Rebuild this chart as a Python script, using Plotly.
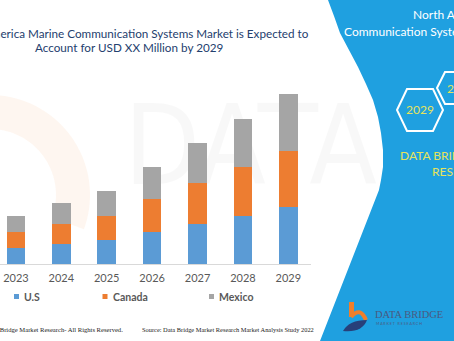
import numpy as np
import plotly.graph_objects as go

# Market size by country (USD million, indexed units)
years = ["2023", "2024", "2025", "2026", "2027", "2028", "2029"]
us = [2.0, 2.5, 3.0, 4.0, 5.0, 6.0, 7.0]
canada = [2.0, 2.5, 3.0, 4.0, 5.0, 6.0, 7.0]
mexico = [2.0, 2.5, 3.0, 4.0, 5.0, 6.0, 7.0]

series = [("U.S", us, "#5B9BD5"), ("Canada", canada, "#ED7D31"), ("Mexico", mexico, "#A5A5A5")]

W, H = 454, 341


def X(px):
    return px / W


def Y(py):
    return 1 - py / H


def path(points, close=True):
    s = "M " + " L ".join(f"{X(a):.5f},{Y(b):.5f}" for a, b in points)
    return s + (" Z" if close else "")


fig = go.Figure()
for name, vals, col in series:
    fig.add_trace(go.Bar(x=years, y=vals, name=name, marker_color=col,
                         marker_line_width=0, showlegend=False))

shapes = []

# faint logo arc in the background
th = np.linspace(np.radians(100), np.radians(-20), 40)
cx, cy = -10, 195
outer = [(cx + 100 * np.cos(t), cy - 100 * np.sin(t)) for t in th]
inner = [(cx + 66 * np.cos(t), cy - 66 * np.sin(t)) for t in th[::-1]]
shapes.append(dict(type="path", xref="paper", yref="paper", layer="below",
                   path=path(outer + inner), fillcolor="rgba(248,200,160,0.16)",
                   line_width=0))

# watermark lettering behind the bars
shapes.append(dict(type="rect", xref="paper", yref="paper", layer="below",
                   x0=X(118), x1=X(460), y0=Y(200), y1=Y(75),
                   line_width=0, fillcolor="rgba(0,0,0,0)",
                   label=dict(text="DATA BRIDGE", textposition="middle left",
                              font=dict(family="DejaVu Sans Condensed, Open Sans", size=110,
                                        color="rgba(0,0,0,0.028)", weight=300))))
shapes.append(dict(type="rect", xref="paper", yref="paper", layer="below",
                   x0=X(120), x1=X(460), y0=Y(270), y1=Y(215),
                   line_width=0, fillcolor="rgba(0,0,0,0)",
                   label=dict(text="M  A  R  K  E  T   R  E  S  E  A  R  C  H",
                              textposition="middle left",
                              font=dict(family="Open Sans", size=40,
                                        color="rgba(0,0,0,0.022)", weight=300))))

# blue side panel
edge = [(328, 0), (334, 16), (340, 33), (349, 50), (358, 67), (366, 84), (373, 100),
        (378, 117), (381, 133), (383, 150), (383, 167), (381, 180), (379, 190), (320, 341)]
shapes.append(dict(type="path", xref="paper", yref="paper", layer="above",
                   path=path(edge + [(460, 341), (460, 0)]),
                   fillcolor="#1FA0E0", line_width=0))


def hexagon(cxp, cyp, hw, hh, inset):
    return [(cxp - hw, cyp), (cxp - hw + inset, cyp - hh), (cxp + hw - inset, cyp - hh),
            (cxp + hw, cyp), (cxp + hw - inset, cyp + hh), (cxp - hw + inset, cyp + hh)]


for hx in [hexagon(420, 110, 23, 21, 10), hexagon(455, 88, 18, 16, 8)]:
    shapes.append(dict(type="path", xref="paper", yref="paper", path=path(hx),
                       line=dict(color="white", width=2), fillcolor="rgba(0,0,0,0)"))

# logo mark
shapes.append(dict(type="rect", xref="paper", yref="paper", x0=X(349), x1=X(354),
                   y0=Y(317), y1=Y(302), fillcolor="#F07F2A", line_width=0))
shapes.append(dict(type="path", xref="paper", yref="paper",
                   path=f"M {X(351)},{Y(317)} Q {X(360)},{Y(306)} {X(366)},{Y(320)}",
                   line=dict(color="#F07F2A", width=4), fillcolor="rgba(0,0,0,0)"))
shapes.append(dict(type="path", xref="paper", yref="paper",
                   path=(f"M {X(343)},{Y(331)} Q {X(349)},{Y(320)} {X(367)},{Y(320)} "
                         f"Q {X(362)},{Y(333)} {X(343)},{Y(331)} Z"),
                   fillcolor="#27407A", line_width=0))

# legend swatches
for (name, vals, col), sx in zip(series, [14, 102.5, 209]):
    shapes.append(dict(type="rect", xref="paper", yref="paper", x0=X(sx), x1=X(sx + 5),
                       y0=Y(299), y1=Y(294), fillcolor=col, line_width=0))

ann = []


def text(x, y, s, size, color, family="Lato", xanchor="left", weight="normal"):
    ann.append(dict(x=X(x), y=Y(y), xref="paper", yref="paper", text=s, showarrow=False,
                    xanchor=xanchor, yanchor="middle",
                    font=dict(family=family, size=size, color=color, weight=weight)))


title_col = "#24406E"
text(129, 32.5, "North America Marine Communication Systems Market is Expected to", 11.7,
     title_col, xanchor="center")
text(129, 47, "Account for USD XX Million by 2029", 11.7, title_col, xanchor="center")

for (name, vals, col), tx in zip(series, [22, 111, 217]):
    text(tx, 297, name, 10.5, "#595959", weight="bold")

text(125, 329, "© Data Bridge Market Research- All Rights Reserved.", 6.6, "#222222",
     family="Liberation Serif", xanchor="right")
text(140, 329, "Source: Data Bridge Market Research Market Analysis Study 2022", 6.4,
     "#222222", family="Liberation Serif")

# panel headings
text(411, 15, "North America Marine", 12, "white")
text(342, 31, "Communication Systems Market", 12, "white")
text(420, 110, "2029", 12, "#E6E35C", xanchor="center")
text(445, 88, "2022", 12, "#E6E35C")
text(398, 155, "DATA BRIDGE MARKET", 12, "#E6E35C")
text(430, 171, "RESEARCH", 12, "#E6E35C")

# logo wordmark
text(373, 314, "DATA BRIDGE", 10.5, "#4A5A80", family="Liberation Serif")
text(374, 323, "M A R K E T   R E S E A R C H", 3.6, "#4A5A80")

fig.update_layout(
    width=W, height=H, margin=dict(l=0, r=0, t=0, b=0),
    paper_bgcolor="white", plot_bgcolor="rgba(0,0,0,0)",
    barmode="stack", bargap=0.59,
    shapes=shapes, annotations=ann,
    xaxis=dict(domain=[0, X(311)], range=[-0.352, 6.5], type="category",
               showline=True, linecolor="#D9D9D9", linewidth=1, ticks="",
               showgrid=False, zeroline=False, ticklabelstandoff=4,
               tickfont=dict(family="Lato", size=11, color="#595959")),
    yaxis=dict(domain=[Y(264), Y(78.1)], range=[0, 23], visible=False,
               showgrid=False, zeroline=False),
)

fig.write_html("out.html")
